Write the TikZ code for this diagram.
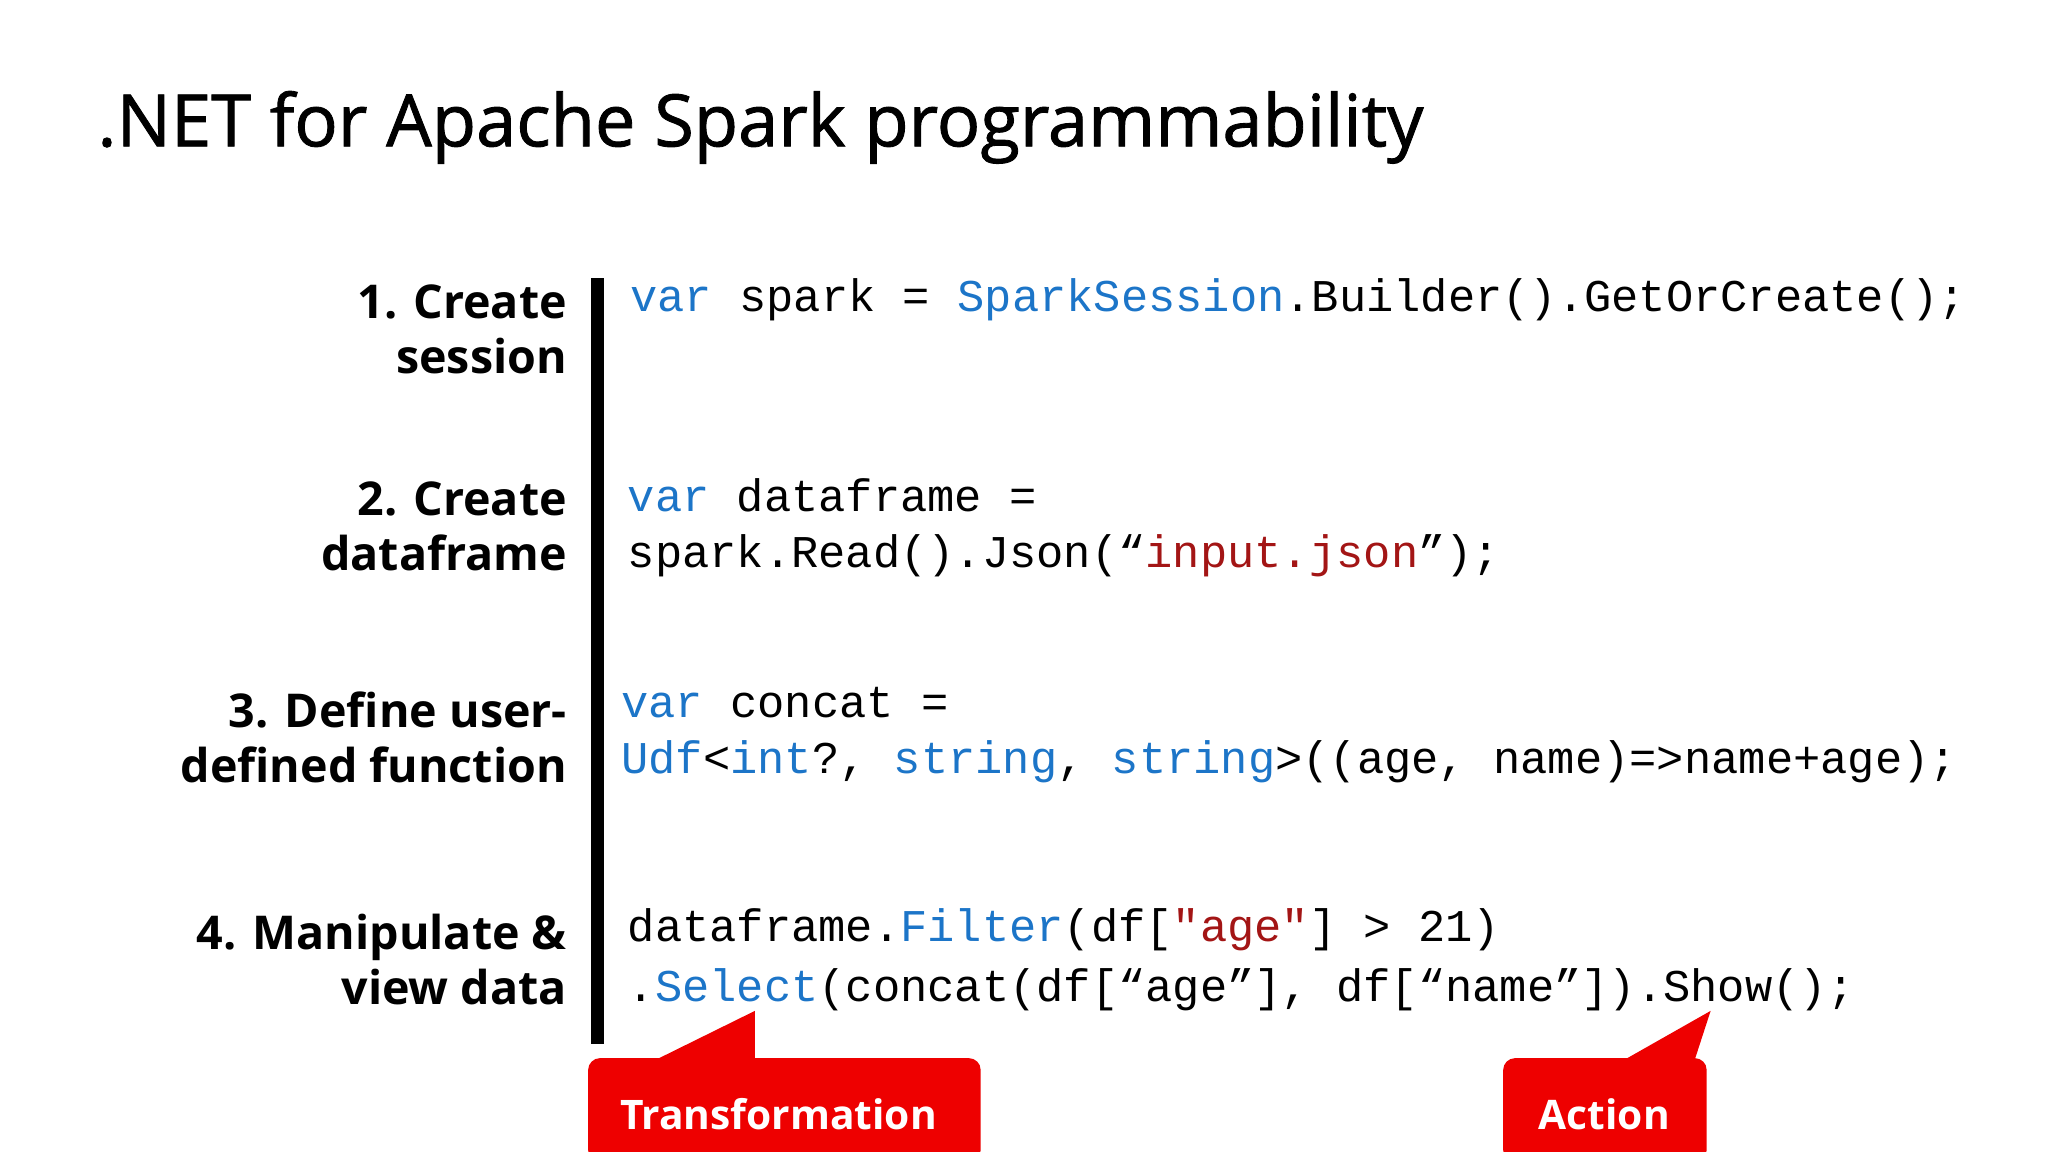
\documentclass[tikz,border=0pt]{standalone}
\usepackage{fontspec}
\setmainfont{Open Sans}
\setmonofont{Liberation Mono}
\newfontfamily\titlefont[FakeBold=1.2]{Open Sans}
\definecolor{kw}{HTML}{1C75C8}
\definecolor{st}{HTML}{A31515}
\definecolor{callred}{HTML}{EE0000}
\begin{document}
\begin{tikzpicture}[x=1pt,y=-1pt,
  code/.style={anchor=west,inner sep=0pt,font=\fontsize{34.6}{40}\ttfamily},
  lbl/.style={anchor=east,align=right,inner sep=0pt,font=\fontsize{35.5}{42}\bfseries},
  callout/.style={fill=callred,draw=none,rounded corners=9pt}]
\useasboundingbox (0,0) rectangle (1560,877.5);
\fill[white] (0,0) rectangle (1560,877.5);
\node[anchor=west,inner sep=0pt,font=\fontsize{55}{60}\titlefont] (title) at (74,97) {.NET for Apache Spark programmability};
\node[lbl] (l1) at (432,251) {1. Create\\session};
\node[lbl] (l2) at (432,401) {2. Create\\dataframe};
\node[lbl] (l3) at (432,562) {3. Define user-\\defined function};
\node[lbl] (l4) at (432,731) {4. Manipulate \&\\view data};
\fill[black] (450,212) rectangle (460,795);
\node[code] (c1) at (480,228) {\textcolor{kw}{var} spark = \textcolor{kw}{SparkSession}.Builder().GetOrCreate();};
\node[code] (c2a) at (478,377) {\textcolor{kw}{var} dataframe =};
\node[code] (c2b) at (478,423) {spark.Read().Json(“\textcolor{st}{input.json}”);};
\node[code] (c3a) at (473,535) {\textcolor{kw}{var} concat =};
\node[code] (c3b) at (473,580) {\textcolor{kw}{Udf}<\textcolor{kw}{int}?, \textcolor{kw}{string}, \textcolor{kw}{string}>((age, name)=>name+age);};
\node[code] (c4a) at (478,708) {dataframe.\textcolor{kw}{Filter}(df[\textcolor{st}{"age"}] > 21)};
\node[code] (c4b) at (478,754) {.\textcolor{kw}{Select}(concat(df[“age”], df[“name”]).Show();};
\fill[callred] (498,808) -- (575,770) -- (575,810) -- cycle;
\fill[callred] (1236,808) -- (1303,770) -- (1290,810) -- cycle;
\path[callout] (448,806) rectangle (747,885);
\path[callout] (1145,806) rectangle (1300,885);
\node[text=white,font=\fontsize{31}{36}\bfseries,inner sep=0pt] (t) at (593,849) {Transformation};
\node[text=white,font=\fontsize{31}{36}\bfseries,inner sep=0pt] (a) at (1222,849) {Action};
\end{tikzpicture}
\end{document}
